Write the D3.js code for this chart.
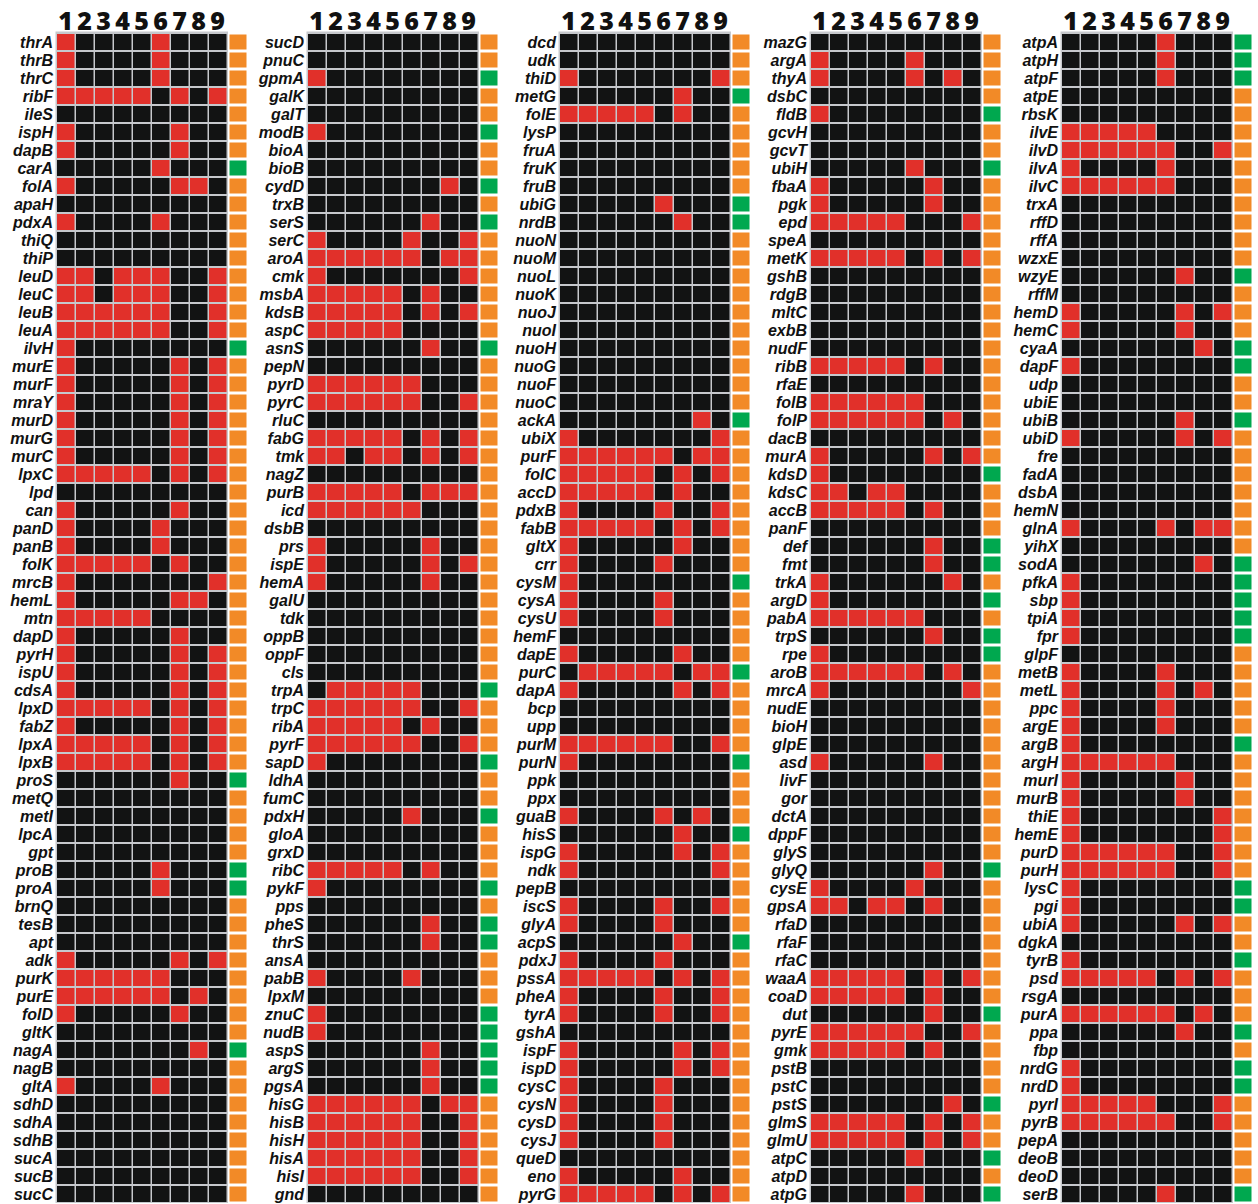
<!DOCTYPE html>
<html>
<head>
<meta charset="utf-8">
<script src="https://cdn.jsdelivr.net/npm/d3@7"></script>
<style>
  html, body { margin: 0; padding: 0; background: #ffffff; }
  svg { display: block; }
</style>
</head>
<body>
<svg id="chart" width="1258" height="1204"></svg>
<script>
// Column headers (conditions 1-9)
const conditions = ["1", "2", "3", "4", "5", "6", "7", "8", "9"];

// Panel 1
const genesP1 = ["thrA","thrB","thrC","ribF","ileS","ispH","dapB","carA","folA","apaH","pdxA","thiQ","thiP",
  "leuD","leuC","leuB","leuA","ilvH","murE","murF","mraY","murD","murG","murC","lpxC","lpd","can","panD",
  "panB","folK","mrcB","hemL","mtn","dapD","pyrH","ispU","cdsA","lpxD","fabZ","lpxA","lpxB","proS","metQ",
  "metI","lpcA","gpt","proB","proA","brnQ","tesB","apt","adk","purK","purE","folD","gltK","nagA","nagB",
  "gltA","sdhD","sdhA","sdhB","sucA","sucB","sucC"];
const hitsP1 = ["100001000","100001000","100001000","111110101","000000000","100000100","100000100","000001000",
  "100000110","000000000","100001000","000000000","000000000","110111001","110111001","111111001","111111001",
  "100000000","100000101","100000101","100000101","100000101","100000101","100000101","111110101","000000000",
  "100000100","100001000","100001000","111110100","100000001","100000110","111110000","100000100","100000101",
  "100000101","100000101","111110101","100000101","111110101","111110101","000000100","000000000","000000000",
  "000000000","000000000","000001000","000001000","000000000","000000000","000000000","100000101","111111000",
  "111111010","100000100","000000000","000000010","000000000","100001000","000000000","000000000","000000000",
  "000000000","000000000","000000000"];
const greenP1 = ["carA","ilvH","proS","proB","proA","nagA"];

// Panel 2
const genesP2 = ["sucD","pnuC","gpmA","galK","galT","modB","bioA","bioB","cydD","trxB","serS","serC","aroA",
  "cmk","msbA","kdsB","aspC","asnS","pepN","pyrD","pyrC","rluC","fabG","tmk","nagZ","purB","icd","dsbB",
  "prs","ispE","hemA","galU","tdk","oppB","oppF","cls","trpA","trpC","ribA","pyrF","sapD","ldhA","fumC",
  "pdxH","gloA","grxD","ribC","pykF","pps","pheS","thrS","ansA","pabB","lpxM","znuC","nudB","aspS","argS",
  "pgsA","hisG","hisB","hisH","hisA","hisI","gnd"];
const hitsP2 = ["000000000","000000000","100000000","000000000","000000000","100000000","000000000","000000000",
  "000000010","000000000","000000100","100001001","111111011","100000001","111110100","111110101","111110000",
  "000000100","000000000","111111000","111111001","000000000","111110101","110110101","000000000","111110111",
  "111111000","000000000","100000100","100000101","100000100","000000000","000000000","000000000","000000000",
  "000000000","011111000","111111001","111110100","111111001","100000000","000000000","000000000","000001000",
  "000000000","000000000","111110100","100000000","000000000","000000100","000000100","000000000","100001000",
  "000000000","100000000","100000000","000000100","000000100","000000100","111111011","111111001","111111001",
  "111111001","111111001","000000000"];
const greenP2 = ["gpmA","modB","cydD","serS","asnS","trpA","sapD","pdxH","pykF","pheS","thrS","znuC","nudB",
  "aspS","argS","pgsA"];

// Panel 3
const genesP3 = ["dcd","udk","thiD","metG","folE","lysP","fruA","fruK","fruB","ubiG","nrdB","nuoN","nuoM",
  "nuoL","nuoK","nuoJ","nuoI","nuoH","nuoG","nuoF","nuoC","ackA","ubiX","purF","folC","accD","pdxB","fabB",
  "gltX","crr","cysM","cysA","cysU","hemF","dapE","purC","dapA","bcp","upp","purM","purN","ppk","ppx",
  "guaB","hisS","ispG","ndk","pepB","iscS","glyA","acpS","pdxJ","pssA","pheA","tyrA","gshA","ispF","ispD",
  "cysC","cysN","cysD","cysJ","queD","eno","pyrG"];
const hitsP3 = ["000000000","000000000","100000001","000000100","111110100","000000000","000000000","000000000",
  "000000000","000001000","000000100","000000000","000000000","000000000","000000000","000000000","000000000",
  "000000000","000000000","000000000","000000000","000000010","100000001","111111011","111110101","111110100",
  "100001001","111110101","100000100","100001000","100000000","100001000","100001000","000000000","100000100",
  "011111011","100000101","000000000","000000000","111111001","100000000","000000000","000000000","100001010",
  "000000100","100000101","100000001","000000000","100001001","100001000","000000100","100001000","111110101",
  "100001001","100001001","000000000","100000101","100000101","100001000","100001000","100001000","100001000",
  "000000000","100000100","111110101"];
const greenP3 = ["metG","ubiG","nrdB","ackA","cysM","purC","purN","hisS","acpS"];

// Panel 4
const genesP4 = ["mazG","argA","thyA","dsbC","fldB","gcvH","gcvT","ubiH","fbaA","pgk","epd","speA","metK",
  "gshB","rdgB","mltC","exbB","nudF","ribB","rfaE","folB","folP","dacB","murA","kdsD","kdsC","accB","panF",
  "def","fmt","trkA","argD","pabA","trpS","rpe","aroB","mrcA","nudE","bioH","glpE","asd","livF","gor",
  "dctA","dppF","glyS","glyQ","cysE","gpsA","rfaD","rfaF","rfaC","waaA","coaD","dut","pyrE","gmk","pstB",
  "pstC","pstS","glmS","glmU","atpC","atpD","atpG"];
const hitsP4 = ["000000000","100001000","100001010","000000000","100000000","000000000","000000000","000001000",
  "100000100","100000100","111110001","000000000","111110101","000000000","000000000","000000000","000000000",
  "000000000","111110100","000000000","111111000","111111010","000000000","100000101","100000000","110110000",
  "111110100","000000000","000000100","000000100","100000010","100000000","111111000","000000100","100000000",
  "111111010","100000001","000000000","000000000","000000000","100000100","000000000","000000000","000000000",
  "000000000","000000000","000000100","100001000","110110100","000000000","000000000","000000000","111110101",
  "111110100","000000100","111111001","111110100","000000000","000000000","000000010","111110101","111110101",
  "000001000","000000000","000001000"];
const greenP4 = ["fldB","ubiH","kdsD","def","fmt","argD","trpS","rpe","glyQ","dut","pstS","atpC","atpG"];

// Panel 5
const genesP5 = ["atpA","atpH","atpF","atpE","rbsK","ilvE","ilvD","ilvA","ilvC","trxA","rffD","rffA","wzxE",
  "wzyE","rffM","hemD","hemC","cyaA","dapF","udp","ubiE","ubiB","ubiD","fre","fadA","dsbA","hemN","glnA",
  "yihX","sodA","pfkA","sbp","tpiA","fpr","glpF","metB","metL","ppc","argE","argB","argH","murI","murB",
  "thiE","hemE","purD","purH","lysC","pgi","ubiA","dgkA","tyrB","psd","rsgA","purA","ppa","fbp","nrdG",
  "nrdD","pyrI","pyrB","pepA","deoB","deoD","serB"];
const hitsP5 = ["000001000","000001000","000001000","000000000","000000000","111110000","111111001","100001000",
  "111111000","000000000","000000000","000000000","000000000","000000100","000000000","100000101","100000100",
  "000000010","100000000","000000000","000000000","000000100","100000101","000000000","000000000","000000000",
  "000000000","100001011","000000000","000000010","100000000","100000000","100000000","100000000","000000000",
  "100001000","100001010","100001000","100001000","100000000","111111000","100000100","100000100","100000001",
  "100000001","111111001","111111001","100000000","100000000","100000101","000000000","100000000","111110101",
  "000000000","111111010","000000100","000000000","100000000","100000000","111110001","111111001","000000000",
  "000000000","000000000","000001000"];
const greenP5 = ["atpA","atpH","atpF","wzyE","cyaA","dapF","ubiB","sodA","pfkA","sbp","tpiA","fpr","argB","lysC",
  "pgi","tyrB","ppa","nrdG","nrdD","serB"];

const panels = [
  { genes: genesP1, hits: hitsP1, green: greenP1 },
  { genes: genesP2, hits: hitsP2, green: greenP2 },
  { genes: genesP3, hits: hitsP3, green: greenP3 },
  { genes: genesP4, hits: hitsP4, green: greenP4 },
  { genes: genesP5, hits: hitsP5, green: greenP5 }
];

const COLORS = {
  hit: "#e1302a",
  none: "#121313",
  grid: "#c6c8cc",
  orange: "#f28a27",
  green: "#00a84f"
};

const svg = d3.select("#chart");

const gridTop = 33;
const rowStep = 18;
const colStep = 19;
const panelStep = 251.25;
const firstPanelX = 57;

const x = d3.scaleBand()
  .domain(conditions)
  .range([0, colStep * conditions.length]);

panels.forEach((p, pi) => {
  const x0 = Math.round(firstPanelX + pi * panelStep);
  const y = d3.scaleBand()
    .domain(p.genes)
    .range([gridTop, gridTop + rowStep * p.genes.length]);

  const g = svg.append("g").attr("transform", `translate(${x0},0)`);

  // grid background (light lines between cells)
  g.append("rect")
    .attr("x", -1.5)
    .attr("y", gridTop - 1.5)
    .attr("width", x.range()[1] + 1.5)
    .attr("height", rowStep * p.genes.length + 1.5)
    .attr("fill", COLORS.grid);

  // column headers
  g.selectAll("text.col")
    .data(conditions)
    .join("text")
    .attr("class", "col")
    .attr("x", d => x(d) + x.bandwidth() / 2 - 1)
    .attr("y", 30)
    .attr("text-anchor", "middle")
    .attr("font-family", "'Open Sans', 'Liberation Sans', sans-serif")
    .attr("font-weight", 800)
    .attr("font-size", 25)
    .attr("fill", "#111")
    .text(d => d);

  // heat-map cells
  const cells = [];
  p.genes.forEach((gene, ri) => {
    conditions.forEach((c, ci) => {
      cells.push({ gene, cond: c, hit: p.hits[ri][ci] === "1" });
    });
  });

  g.selectAll("rect.cell")
    .data(cells)
    .join("rect")
    .attr("class", "cell")
    .attr("x", d => x(d.cond))
    .attr("y", d => y(d.gene) + 1)
    .attr("width", x.bandwidth() - 1.5)
    .attr("height", y.bandwidth() - 2)
    .attr("fill", d => d.hit ? COLORS.hit : COLORS.none);

  // status column
  g.selectAll("rect.status")
    .data(p.genes)
    .join("rect")
    .attr("class", "status")
    .attr("x", x.range()[1] + 1.5)
    .attr("y", d => y(d) + 1.5)
    .attr("width", 17)
    .attr("height", y.bandwidth() - 3)
    .attr("fill", d => p.green.includes(d) ? COLORS.green : COLORS.orange);

  // gene labels
  g.selectAll("text.gene")
    .data(p.genes)
    .join("text")
    .attr("class", "gene")
    .attr("x", -4)
    .attr("y", d => y(d) + y.bandwidth() / 2)
    .attr("dy", "0.36em")
    .attr("text-anchor", "end")
    .attr("font-family", "'Liberation Sans', Arial, sans-serif")
    .attr("font-weight", 700)
    .attr("font-style", "italic")
    .attr("font-size", 16)
    .attr("fill", "#111")
    .text(d => d);
});
</script>
</body>
</html>
